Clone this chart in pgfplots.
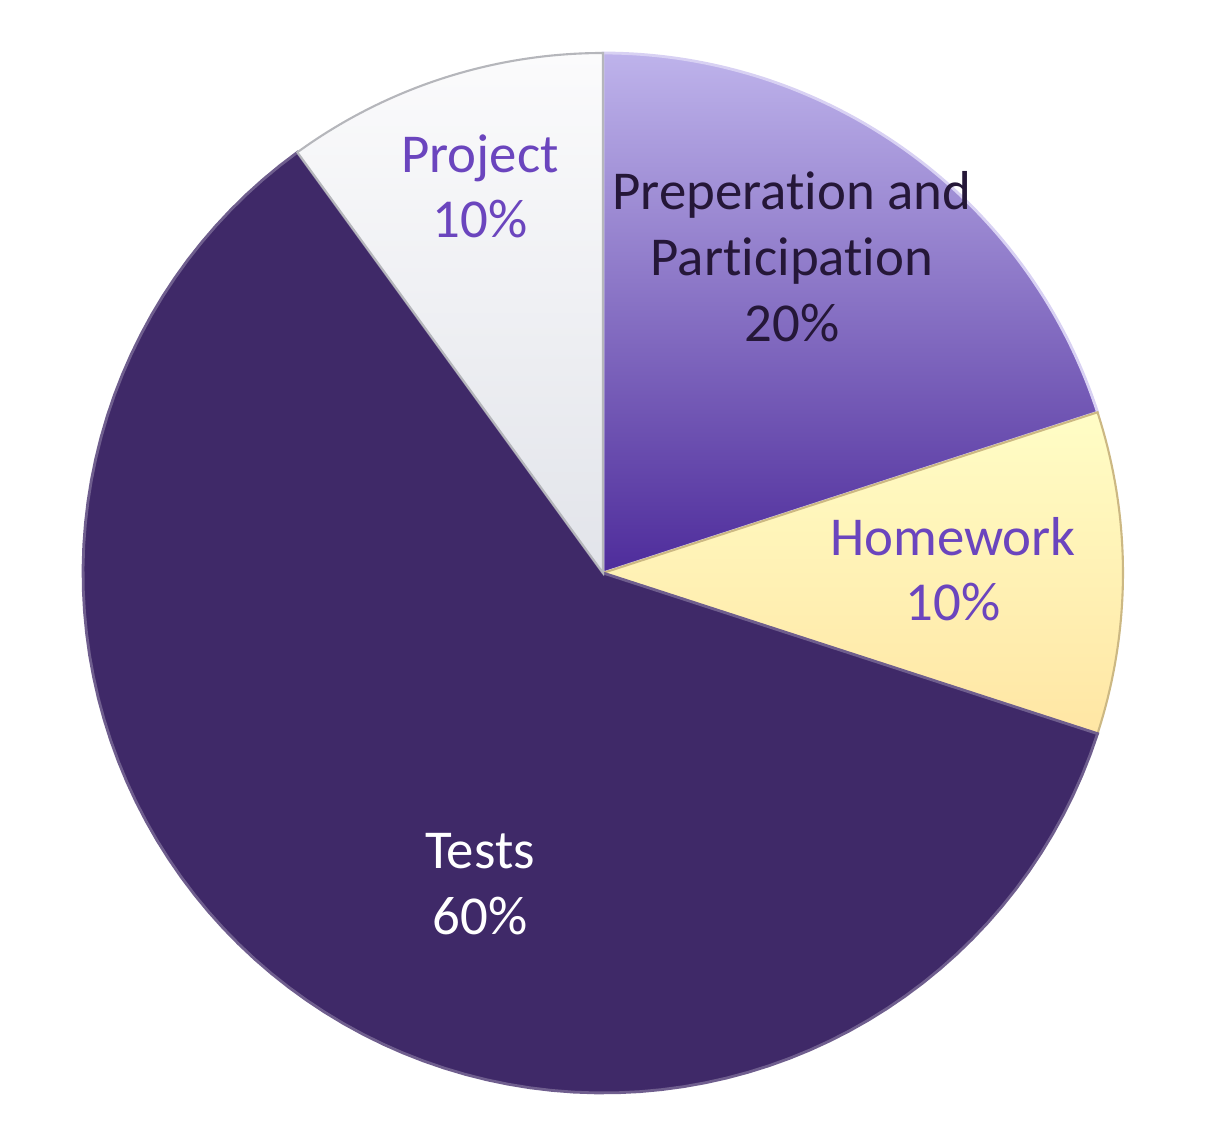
\documentclass[border=0pt]{standalone}
\usepackage{pgfplots}
\pgfplotsset{compat=1.18}
\usepackage{fontspec}
\setmainfont{Carlito}[Ligatures=NoCommon]
\definecolor{prepTop}{HTML}{BEB3EB}
\definecolor{prepMid}{HTML}{9584CE}
\definecolor{prepBot}{HTML}{4E2C9B}
\definecolor{hwTop}{HTML}{FFFDC6}
\definecolor{hwBot}{HTML}{FFE6A4}
\definecolor{tests}{HTML}{3F2968}
\definecolor{projTop}{HTML}{FBFBFC}
\definecolor{projBot}{HTML}{E2E4EA}
\definecolor{lblPurple}{HTML}{6B45BE}
\definecolor{lblDark}{HTML}{251738}
\begin{document}
\begin{tikzpicture}
\useasboundingbox (0,0) rectangle (12.11cm,11.41cm);
\begin{axis}[
  at={(0,0)}, anchor=south west,
  scale only axis, width=12.11cm, height=11.41cm,
  xmin=0, xmax=1211, ymin=0, ymax=1141,
  hide axis, clip=false,
  samples=90, variable=\t,
]
% slices: start angle 90, clockwise; values 20, 10, 60, 10 (percent)
% Preperation and Participation 20%
\addplot[draw=prepTop!60!white, line width=0.8pt, top color=prepTop, middle color=prepMid, bottom color=prepBot,
  domain=90:{90-3.6*20}] ({603+520*cos(\t)},{568+520*sin(\t)}) -- (axis cs:603,568) -- cycle;
% Homework 10%
\addplot[draw=hwBot!80!black, line width=0.6pt, top color=hwTop, bottom color=hwBot,
  domain={90-3.6*20}:{90-3.6*30}] ({603+520*cos(\t)},{568+520*sin(\t)}) -- (axis cs:603,568) -- cycle;
% Tests 60%
\addplot[draw=tests!75!white, line width=0.8pt, fill=tests,
  domain={90-3.6*30}:{90-3.6*90}] ({603+520*cos(\t)},{568+520*sin(\t)}) -- (axis cs:603,568) -- cycle;
% Project 10%
\addplot[draw=projBot!80!black, line width=0.6pt, top color=projTop, bottom color=projBot,
  domain={90-3.6*90}:{90-3.6*100}] ({603+520*cos(\t)},{568+520*sin(\t)}) -- (axis cs:603,568) -- cycle;

\tikzset{lbl/.style={anchor=base, inner sep=0pt, font=\fontsize{15.6}{18.8}\selectfont}}
\node[lbl, text=lblPurple] at (axis cs:480,{1141-173}) {Project};
\node[lbl, text=lblPurple] at (axis cs:480,{1141-238}) {10\%};
\node[lbl, text=lblDark] at (axis cs:792,{1141-210}) {Preperation and};
\node[lbl, text=lblDark] at (axis cs:792,{1141-276}) {Participation};
\node[lbl, text=lblDark] at (axis cs:792,{1141-342}) {20\%};
\node[lbl, text=lblPurple] at (axis cs:953,{1141-556}) {Homework};
\node[lbl, text=lblPurple] at (axis cs:953,{1141-621}) {10\%};
\node[lbl, text=white] at (axis cs:480,{1141-869}) {Tests};
\node[lbl, text=white] at (axis cs:480,{1141-935}) {60\%};
\end{axis}
\end{tikzpicture}
\end{document}
